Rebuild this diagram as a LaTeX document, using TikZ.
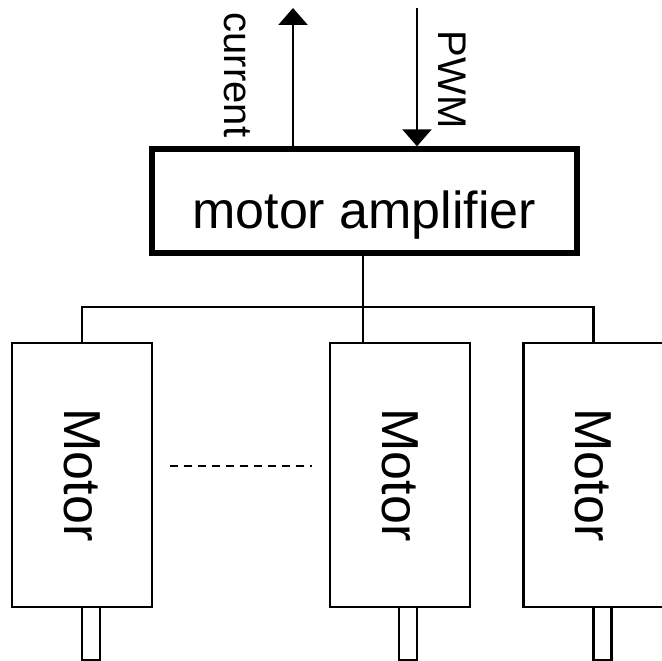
\documentclass[tikz,border=0pt]{standalone}
\usepackage{fontspec}
\setmainfont{Liberation Sans}
\usetikzlibrary{arrows.meta}
\begin{document}
\begin{tikzpicture}[x=1pt,y=-1pt,
  ampbox/.style={draw,line width=6pt,minimum width=424.7pt,minimum height=104pt,inner sep=0pt,
     font=\fontsize{52}{52}\selectfont,text height=53.4pt,text depth=0pt},
  motorbox/.style={draw,line width=2.3pt,rotate=-90,minimum width=264pt,minimum height=140pt,inner sep=0pt,
     font=\fontsize{52}{52}\selectfont},
  shaftbox/.style={draw,line width=2.3pt,minimum width=18pt,minimum height=53pt,inner sep=0pt,outer sep=0pt},
  wire/.style={line width=2.3pt},
  sig/.style={line width=2.6pt,-{Triangle[width=29pt,length=17pt]}},
  lbl/.style={rotate=-90,anchor=base,inner sep=0pt,font=\fontsize{40}{40}\selectfont}]
\useasboundingbox (0,0) rectangle (662,661);
\clip (0,0) rectangle (662,661);
\fill[white] (0,0) rectangle (662,661);

% shafts (drawn first so motor boxes sit above)
\node[shaftbox] (s1) at (91,633.5) {};
\node[shaftbox] (s2) at (408,633.5) {};
\node[shaftbox] (s3) at (602.5,633.5) {};

% motors
\node[motorbox,fill=white] (m1) at (82,475) {Motor};
\node[motorbox,fill=white] (m2) at (400,475) {Motor};
\node[motorbox,fill=white] (m3) at (593.5,475) {Motor};

% amplifier
\node[ampbox] (amp) at (364.3,201.3) {motor amplifier};

% bus
\coordinate (busL) at (82,307);
\coordinate (busR) at (593.5,307);
\coordinate (busM) at (363,307);
\coordinate (drop) at (363,343);
\draw[wire] (amp.south -| busM) -- (drop);
\draw[wire] (m1.west) -- (busL) -- (busR) -- (m3.west);

% dashed continuation
\coordinate (dA) at (170,466);
\coordinate (dB) at (312,466);
\draw[line width=2pt,dash pattern=on 8pt off 6pt] (dA) -- (dB);

% signals
\coordinate (cur) at (293,8);
\coordinate (pwm) at (417,8);
\draw[sig] (amp.north -| cur) -- (cur);
\draw[sig] (pwm) -- (amp.north -| pwm);

\node[lbl] (lcur) at (224,75) {current};
\node[lbl] (lpwm) at (438,79.5) {PWM};
\end{tikzpicture}
\end{document}
